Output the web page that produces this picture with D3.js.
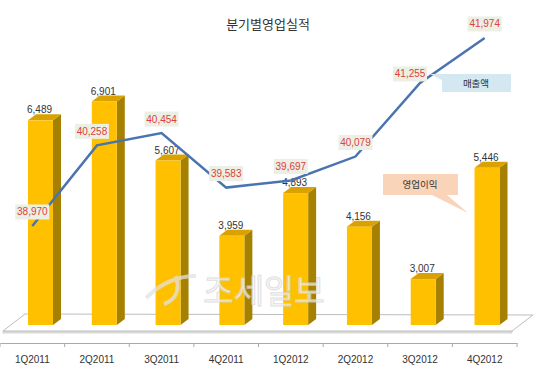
<!DOCTYPE html>
<html>
<head>
<meta charset="utf-8">
<script src="https://cdn.jsdelivr.net/npm/d3@7"></script>
<style>
  body { margin: 0; background: #fff; }
  text { font-family: "Liberation Sans", Arial, sans-serif; }
  .kr { font-family: "Noto Sans CJK KR", sans-serif; }
</style>
</head>
<body>
<div id="chart"></div>
<script>
// quarterly results
const quarters = ['1Q2011', '2Q2011', '3Q2011', '4Q2011', '1Q2012', '2Q2012', '3Q2012', '4Q2012'];
const operatingProfit = [6489, 6901, 5607, 3959, 4893, 4156, 3007, 5446];
const sales = [38970, 40258, 40454, 39583, 39697, 40079, 41255, 41974];
const titleText = '분기별영업실적';
const salesName = '매출액';
const profitName = '영업이익';

const width = 540, height = 372;
const svg = d3.select('#chart').append('svg')
    .attr('width', width)
    .attr('height', height);

// scales
const x = d3.scaleBand().domain(quarters).range([0, 517]);
const xBar = d3.scalePoint().domain(quarters).range([40.5, 487]);   // front face centres (3d shift)
const yBar = d3.scaleLinear().domain([2000, 7000]).range([325, 97]);
const ySales = d3.scaleLinear().domain([37000, 42000]).range([349.3, 36.3]);

const fmt = d3.format(',');
const barW = 25, depthX = 8, depthY = 6;

// title
svg.append('text')
    .attr('class', 'kr')
    .attr('x', 268).attr('y', 29)
    .attr('text-anchor', 'middle')
    .style('font-size', '13px')
    .style('fill', '#333')
    .text(titleText);

// floor
const floor = [[25, 314], [533, 315], [512, 331], [3, 331]];
svg.append('path')
    .attr('d', 'M' + [[3, 331], [512, 331], [512, 333], [3, 333]].join('L') + 'Z')
    .style('fill', '#e8e8e8').style('stroke', '#c8c8c8').style('stroke-width', 0.8);
svg.append('path')
    .attr('d', 'M' + floor.join('L') + 'Z')
    .style('fill', '#fff').style('stroke', '#bdbdbd').style('stroke-width', 1);

// bottom axis
const axis = svg.append('g')
    .attr('transform', 'translate(0,343)')
    .call(d3.axisBottom(x).tickSize(0).tickPadding(13));
axis.select('.domain').style('stroke', '#aaa');
axis.selectAll('text')
    .style('font-family', '"Liberation Sans", Arial, sans-serif')
    .style('font-size', '10px')
    .style('fill', '#333');
axis.selectAll('.sep')
    .data(d3.range(quarters.length + 1))
    .enter().append('line')
    .attr('x1', i => i * x.step()).attr('x2', i => i * x.step())
    .attr('y1', 0).attr('y2', 4)
    .style('stroke', '#aaa');

// 3d bars
const bars = svg.append('g').selectAll('g')
    .data(quarters.map((q, i) => ({ q, v: operatingProfit[i] })))
    .enter().append('g');

bars.append('path') // side
    .attr('d', d => {
        const x1 = xBar(d.q) + barW / 2, yt = yBar(d.v), yb = yBar.range()[0];
        return `M${x1},${yt}L${x1 + depthX},${yt - depthY}L${x1 + depthX},${yb - depthY}L${x1},${yb}Z`;
    })
    .style('fill', '#a68000');
bars.append('path') // top
    .attr('d', d => {
        const x0 = xBar(d.q) - barW / 2, x1 = x0 + barW, yt = yBar(d.v);
        return `M${x0},${yt}L${x0 + depthX},${yt - depthY}L${x1 + depthX},${yt - depthY}L${x1},${yt}Z`;
    })
    .style('fill', '#d9a200');
bars.append('rect') // front
    .attr('x', d => xBar(d.q) - barW / 2)
    .attr('y', d => yBar(d.v))
    .attr('width', barW)
    .attr('height', d => yBar.range()[0] - yBar(d.v))
    .style('fill', '#ffc000');

bars.append('text')
    .attr('x', d => xBar(d.q) - 1)
    .attr('y', d => yBar(d.v) - 7)
    .attr('text-anchor', 'middle')
    .style('font-size', '10px')
    .style('fill', '#333')
    .text(d => fmt(d.v));

// sales line
const line = d3.line()
    .x((d, i) => x(quarters[i]) + x.bandwidth() / 2)
    .y(d => ySales(d));

svg.append('path')
    .datum(sales)
    .attr('d', line)
    .style('fill', 'none')
    .style('stroke', '#4a74b0')
    .style('stroke-width', 2.5);

// sales labels
const nudge = { 1: -5, 6: -10 };
const sl = svg.append('g').selectAll('g')
    .data(sales)
    .enter().append('g')
    .attr('transform', (d, i) => {
        const cx = x(quarters[i]) + x.bandwidth() / 2 + (nudge[i] || 0);
        const cy = ySales(d) - (i === 6 ? 9 : 14);
        return `translate(${cx},${cy})`;
    });
sl.append('rect')
    .attr('x', -17).attr('y', -7.5)
    .attr('width', 34).attr('height', 15)
    .style('fill', '#ecefe4');
sl.append('text')
    .attr('y', 3.5)
    .attr('text-anchor', 'middle')
    .style('font-size', '10px')
    .style('fill', '#e0403c')
    .text(d => fmt(d));

// callouts
const salesCall = svg.append('g');
salesCall.append('path')
    .attr('d', 'M442,74L511,74L511,92L442,92L442,80L430,74Z')
    .style('fill', '#d4e8f1');
salesCall.append('text')
    .attr('class', 'kr')
    .attr('x', 476).attr('y', 86.5)
    .attr('text-anchor', 'middle')
    .style('font-size', '9.5px')
    .style('fill', '#333')
    .text(salesName);

const profitCall = svg.append('g');
profitCall.append('path')
    .attr('d', 'M383,174L458,174L458,195L447,195L468,213L432,195L383,195Z')
    .style('fill', '#f9d4b9');
profitCall.append('text')
    .attr('class', 'kr')
    .attr('x', 420).attr('y', 188)
    .attr('text-anchor', 'middle')
    .style('font-size', '9.5px')
    .style('fill', '#333')
    .text(profitName);

// watermark
const wm = svg.append('g').style('opacity', 0.75);
wm.append('path')
    .attr('d', 'M146,298C160,284 178,276 196,276M176,276C180,290 176,300 164,304')
    .style('fill', 'none')
    .style('stroke', '#e2e2e2')
    .style('stroke-width', 4);
wm.append('text')
    .attr('class', 'kr')
    .attr('x', 264).attr('y', 303)
    .attr('text-anchor', 'middle')
    .style('font-size', '33px')
    .style('fill', '#f6f6f6')
    .style('stroke', '#d6d6d6')
    .style('stroke-width', 1)
    .text('조세일보');
</script>
</body>
</html>
